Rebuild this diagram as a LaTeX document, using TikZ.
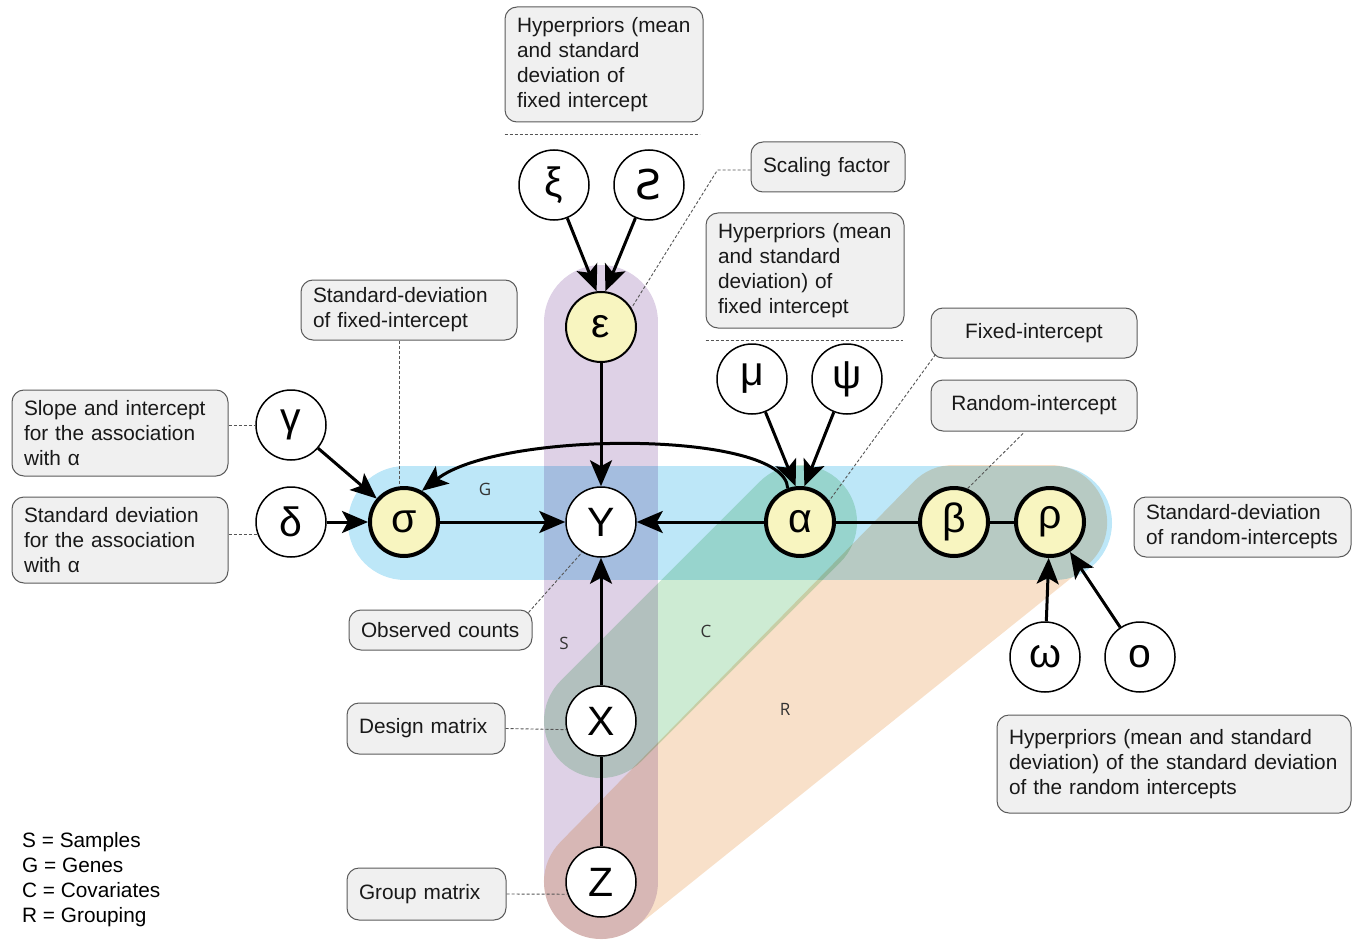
\documentclass[tikz,border=0pt]{standalone}
\usepackage{fontspec}
\setmainfont{Liberation Sans}
\newfontfamily\dejavu{DejaVu Sans}
\newfontfamily\opensansfont{Open Sans}
\usetikzlibrary{arrows.meta}
\definecolor{plateS}{HTML}{DED1E6}
\definecolor{plateG}{HTML}{BDE7F8}
\definecolor{plateC}{HTML}{CDEBD3}
\definecolor{plateR}{HTML}{F8E0C9}
\definecolor{yfill}{HTML}{F8F5C0}
\definecolor{boxfill}{HTML}{F0F0F0}
\definecolor{boxline}{HTML}{5A5A5A}
\definecolor{leadgray}{HTML}{555555}
\definecolor{lbltext}{HTML}{333333}
\pgfdeclarelayer{bg}
\pgfsetlayers{bg,main}
\begin{document}
\begin{tikzpicture}[x=1pt,y=-1pt,
  var/.style={circle, draw=black, line width=1.5pt, fill=white, minimum size=70pt, inner sep=0pt, font=\fontsize{41}{48}\selectfont},
  lat/.style={var, fill=yfill, line width=4pt, minimum size=68pt},
  note/.style={draw=boxline, fill=boxfill, rounded corners=12pt, line width=1pt, font=\fontsize{20.8}{25}\selectfont, inner ysep=0pt, text=black!90},
  lnote/.style={note, align=left, inner xsep=12pt, text width=#1},
  cnote/.style={note, align=center, inner xsep=0pt},
  edge/.style={line width=3pt, -{Stealth[length=26pt,width=22pt,inset=6pt]}},
  link/.style={line width=3pt},
  lead/.style={draw=leadgray, line width=0.9pt, dash pattern=on 3pt off 2pt},
  plate/.style={line width=114pt, line cap=round, line join=round, blend mode=multiply},
  platelbl/.style={font=\opensansfont\fontsize{17}{20}\selectfont, text=lbltext, inner sep=0pt}
]
\useasboundingbox (0,0) rectangle (1360,944);

% variables
\node[var] (xi) at (554,185) {ξ};
\node[var] (zeta) at (649,185) {\dejavu Ƨ};
\node[var, fill=yfill, line width=2pt] (eps) at (601,327) {ε};
\node[var] (mu) at (752,379) {μ};
\node[var] (psi) at (847,379) {ψ};
\node[var] (gam) at (291,425) {γ};
\node[var] (del) at (291,522) {δ};
\node[lat] (sig) at (404,522) {σ};
\node[var] (Y) at (601,522) {Y};
\node[lat] (alp) at (800,522) {α};
\node[lat] (bet) at (954,522) {β};
\node[lat] (rho) at (1050,522) {ρ};
\node[var] (ome) at (1045,657) {ω};
\node[var] (omi) at (1140,657) {ο};
\node[var] (X) at (601,721) {X};
\node[var] (Z) at (601,882) {Z};

% plates
\begin{pgfonlayer}{bg}
\coordinate (stop) at (601,322);
\draw[plate, plateS] (stop) -- (Z.center);
\coordinate (gl) at (405,523);
\coordinate (gr) at (1055,523);
\draw[plate, plateG] (gl) -- (gr);
\draw[plate, plateC] (X.center) -- (alp.center);
\draw[plate, plateR] (Z.center) -- (bet.center) -- (rho.center) -- cycle;
\end{pgfonlayer}

% plate labels
\node[platelbl] (lG) at (485,489) {G};
\node[platelbl] (lS) at (564,643) {S};
\node[platelbl] (lC) at (706,631) {C};
\node[platelbl] (lR) at (785,709) {R};

% edges
\draw[edge] (xi) -- (eps.97);
\draw[edge] (zeta) -- (eps.83);
\draw[edge] (eps) -- (Y);
\draw[edge] (sig) -- (Y);
\draw[edge] (alp) -- (Y);
\draw[edge] (X) -- (Y);
\draw[link] (Z) -- (X);
\draw[link] (alp) -- (bet);
\draw[link] (bet) -- (rho);
\draw[edge] (gam) -- (sig);
\draw[edge] (del) -- (sig);
\draw[edge] (mu) -- (alp.97);
\draw[edge] (psi) -- (alp.83);
\draw[edge] (ome) -- (rho);
\draw[edge] (omi) -- (rho);
\draw[edge] (alp.110) .. controls (785,430) and (500,430) .. (sig.60);

% notes
\node[lnote=174pt, minimum height=115pt] (b1) at (604,64.5) {Hyperpriors (mean\\and standard\\deviation of\\fixed intercept};
\node[lnote=130pt, minimum height=50pt] (scal) at (828,167) {Scaling factor};
\node[lnote=174pt, minimum height=115pt] (b3) at (805,270.5) {Hyperpriors (mean\\and standard\\deviation) of\\fixed intercept};
\node[lnote=192pt, minimum height=60pt] (b4) at (409,310) {Standard-deviation\\of fixed-intercept};
\node[cnote, minimum width=206pt, minimum height=50pt] (fix) at (1034,333) {Fixed-intercept};
\node[cnote, minimum width=206pt, minimum height=51pt] (ran) at (1034,405.5) {Random-intercept};
\node[lnote=192pt, minimum height=86pt] (slope) at (120,433) {Slope and intercept\\for the association\\with α};
\node[lnote=192pt, minimum height=86pt] (sdev) at (120,540) {Standard deviation\\for the association\\with α};
\node[lnote=193pt, minimum height=60pt] (sdri) at (1242.5,527) {Standard-deviation\\of random-intercepts};
\node[lnote=159pt, minimum height=40pt] (obs) at (440.5,630) {Observed counts};
\node[lnote=134pt, minimum height=51pt] (des) at (426,728.5) {Design matrix};
\node[lnote=135pt, minimum height=52pt] (grp) at (426.5,894) {Group matrix};
\node[lnote=330pt, minimum height=98pt, inner xsep=12pt] (hyp3) at (1174,764) {Hyperpriors (mean and standard\\deviation) of the standard deviation\\of the random intercepts};

% leaders
\draw[lead] (b1.south west) ++(0,12) -- ++(195,0);
\draw[lead] (b3.south west) ++(0,12) -- ++(197,0);
\draw[lead] (scal.west) ++(0,3) -- ++(-33,0) -- (eps.32);
\draw[lead] (sig.97 |- b4.south) -- (sig.97);
\draw[lead] (slope.east |- gam.west) -- (gam.west);
\draw[lead] (sdev.east |- del.200) -- (del.200);
\draw[lead] (fix.south west) ++(5,-4) -- (alp.36);
\draw[lead] (ran.south) ++(-11,2) -- (bet.68);
\draw[lead] (obs.north east) ++(-4,3) -- (Y.238);
\draw[lead] (des.east) -- (X.194);
\draw[lead] (grp.east) -- (Z.200);

% legend
\node[align=left, anchor=north west, inner sep=0pt, font=\fontsize{20.8}{25}\selectfont] (leg) at (22,832) {S = Samples\\G = Genes\\C = Covariates\\R = Grouping};
\end{tikzpicture}
\end{document}
